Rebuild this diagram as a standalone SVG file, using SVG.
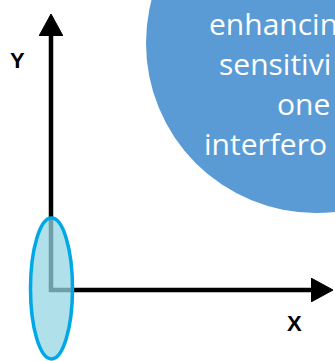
<svg xmlns="http://www.w3.org/2000/svg" width="335" height="361" viewBox="0 0 335 361">
<style>
.axis{stroke:#000;stroke-width:4.5;fill:none}
.lbl{font-family:"Liberation Sans",Arial,sans-serif;font-weight:bold;font-size:22px;fill:#000}
.ct{font-family:"Open Sans","Noto Sans",sans-serif;font-size:30px;fill:#fff}
</style>
<defs>
<marker id="ah" markerWidth="22" markerHeight="24" refX="1" refY="12" orient="auto" markerUnits="userSpaceOnUse" viewBox="0 0 22 24">
<path d="M0,0 L22,12 L0,24 Z" fill="#000" stroke="#000" stroke-width="1" stroke-linejoin="round"/>
</marker>
</defs>
<g id="bubble">
<circle cx="316" cy="43" r="170" fill="#5b9bd5"/>
<text class="ct" x="209" y="35">enhancin</text>
<text class="ct" x="219" y="75">sensitivi</text>
<text class="ct" x="277" y="115">one</text>
<text class="ct" x="204" y="155">interfero</text>
</g>
<g id="connectors">
<path class="axis" d="M51,292 L51,35" marker-end="url(#ah)"/>
<path class="axis" d="M49,290 L312,290" marker-end="url(#ah)"/>
</g>
<g id="y-label"><text class="lbl" x="10" y="68">Y</text></g>
<g id="x-label"><text class="lbl" x="287" y="331">X</text></g>
<g id="ellipse">
<ellipse cx="51.5" cy="288.5" rx="21" ry="70.5" fill="#94d7e2" fill-opacity="0.74" stroke="#00a8e6" stroke-width="3.5"/>
</g>
</svg>
